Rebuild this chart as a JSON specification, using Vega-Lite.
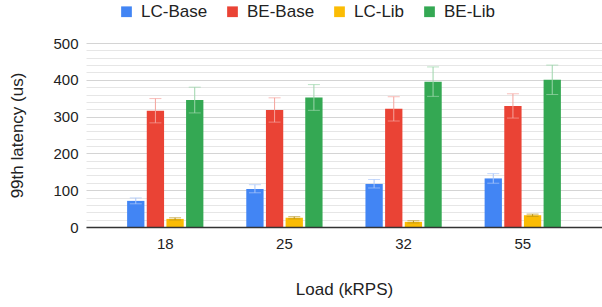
{
  "$schema": "https://vega.github.io/schema/vega-lite/v6.json",
  "width": 516,
  "height": 184,
  "autosize": {"type": "none"},
  "padding": {"left": 86, "top": 43, "right": 0, "bottom": 80},
  "background": "white",
  "config": {
    "font": "Liberation Sans",
    "view": {"stroke": null}
  },
  "data": {
    "values": [
      {"load": "18", "series": "LC-Base", "value": 71, "lo": 63, "hi": 79},
      {"load": "18", "series": "BE-Base", "value": 316, "lo": 283, "hi": 349},
      {"load": "18", "series": "LC-Lib", "value": 22, "lo": 19, "hi": 25},
      {"load": "18", "series": "BE-Lib", "value": 345, "lo": 310, "hi": 380},
      {"load": "25", "series": "LC-Base", "value": 103, "lo": 93, "hi": 115},
      {"load": "25", "series": "BE-Base", "value": 318, "lo": 285, "hi": 351},
      {"load": "25", "series": "LC-Lib", "value": 25, "lo": 22, "hi": 28},
      {"load": "25", "series": "BE-Lib", "value": 352, "lo": 317, "hi": 387},
      {"load": "32", "series": "LC-Base", "value": 117, "lo": 106, "hi": 129},
      {"load": "32", "series": "BE-Base", "value": 321, "lo": 288, "hi": 354},
      {"load": "32", "series": "LC-Lib", "value": 14, "lo": 11, "hi": 17},
      {"load": "32", "series": "BE-Lib", "value": 395, "lo": 355, "hi": 435},
      {"load": "55", "series": "LC-Base", "value": 132, "lo": 119, "hi": 145},
      {"load": "55", "series": "BE-Base", "value": 329, "lo": 296, "hi": 362},
      {"load": "55", "series": "LC-Lib", "value": 32, "lo": 29, "hi": 35},
      {"load": "55", "series": "BE-Lib", "value": 400, "lo": 360, "hi": 440}
    ]
  },
  "encoding": {
    "x": {
      "field": "load", "type": "nominal", "sort": ["18", "25", "32", "55"],
      "scale": {"paddingInner": 0.36, "paddingOuter": 0.345},
      "axis": {
        "title": "Load (kRPS)", "labelAngle": 0, "ticks": false,
        "labelFontSize": 15, "labelColor": "#222", "labelPadding": 9,
        "titleFontSize": 17, "titleFontWeight": "normal", "titleColor": "#222", "titlePadding": 30,
        "domainColor": "#333", "domainWidth": 1.5, "grid": false, "zindex": 1
      }
    },
    "xOffset": {
      "field": "series", "type": "nominal", "sort": ["LC-Base", "BE-Base", "LC-Lib", "BE-Lib"],
      "scale": {"paddingInner": 0.12, "paddingOuter": 0}
    }
  },
  "layer": [
    {
      "mark": {"type": "bar"},
      "encoding": {
        "y": {
          "field": "value", "type": "quantitative",
          "scale": {"domain": [0, 500], "nice": false},
          "axis": {
            "orient": "left",
            "title": null,
            "values": [20,40,60,80,120,140,160,180,220,240,260,280,320,340,360,380,420,440,460,480],
            "labels": false, "ticks": false, "domain": false,
            "grid": true, "gridColor": "#e6e6e6", "gridWidth": 1
          }
        },
        "color": {
          "field": "series", "type": "nominal", "sort": ["LC-Base", "BE-Base", "LC-Lib", "BE-Lib"],
          "scale": {"domain": ["LC-Base", "BE-Base", "LC-Lib", "BE-Lib"], "range": ["#4285F4", "#EA4335", "#FBBC04", "#34A853"]},
          "legend": {
            "title": null, "orient": "none", "direction": "horizontal", "columns": 4,
            "legendX": 32, "legendY": -40, "symbolType": "square", "symbolSize": 115,
            "symbolStrokeWidth": 0, "symbolOpacity": 1,
            "labelFontSize": 17, "labelColor": "#222", "labelOffset": 6, "columnPadding": 16
          }
        }
      }
    },
    {
      "mark": {"type": "rule", "strokeWidth": 1},
      "encoding": {
        "y": {
          "field": "lo", "type": "quantitative",
          "axis": {
            "orient": "left",
            "title": "99th latency (us)",
            "values": [0, 100, 200, 300, 400, 500],
            "grid": true, "gridColor": "#d4d4d4", "gridWidth": 1,
            "ticks": false, "domain": false, "labelOverlap": false,
            "labelFontSize": 15, "labelColor": "#222", "labelPadding": 8,
            "titleFontSize": 17, "titleFontWeight": "normal", "titleColor": "#222", "titlePadding": 26
          }
        },
        "y2": {"field": "hi"},
        "color": {
          "field": "series", "type": "nominal",
          "scale": {"domain": ["LC-Base", "BE-Base", "LC-Lib", "BE-Lib"], "range": ["#a9c6fa", "#f5a39c", "#b8941a", "#9dd5ab"]},
          "legend": null
        }
      }
    },
    {
      "mark": {"type": "tick", "size": 12, "thickness": 1},
      "encoding": {
        "y": {"field": "lo", "type": "quantitative", "axis": null},
        "color": {"field": "series", "type": "nominal", "scale": {"domain": ["LC-Base", "BE-Base", "LC-Lib", "BE-Lib"], "range": ["#a9c6fa", "#f5a39c", "#b8941a", "#9dd5ab"]}, "legend": null}
      }
    },
    {
      "mark": {"type": "tick", "size": 12, "thickness": 1},
      "encoding": {
        "y": {"field": "hi", "type": "quantitative", "axis": null},
        "color": {"field": "series", "type": "nominal", "scale": {"domain": ["LC-Base", "BE-Base", "LC-Lib", "BE-Lib"], "range": ["#a9c6fa", "#f5a39c", "#b8941a", "#9dd5ab"]}, "legend": null}
      }
    }
  ],
  "resolve": {"scale": {"color": "independent"}, "axis": {"y": "independent"}}
}
